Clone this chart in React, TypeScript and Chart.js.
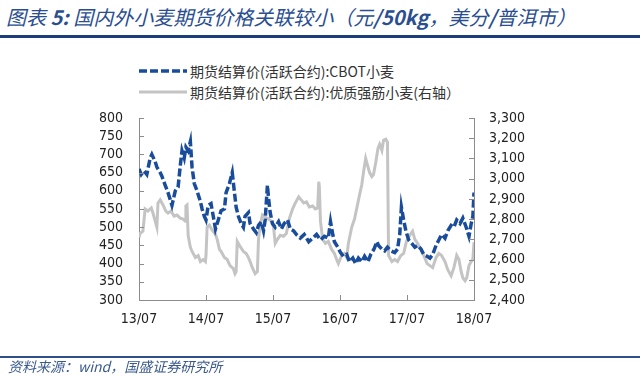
import React, { useEffect, useRef } from "react";
import { Chart, registerables } from "chart.js";

Chart.register(...registerables);

const xTickLabels = ["13/07", "14/07", "15/07", "16/07", "17/07", "18/07"];

// months since 2013/07
const cbotMonths = [
  0, 0.4, 0.9, 1.4, 2.0, 2.3, 2.9, 3.2, 3.8, 4.1, 4.7, 5.2, 5.6, 5.9, 6.5, 7.0, 7.4, 7.7, 8.1, 8.4,
  8.8, 9.2, 9.5, 9.9, 10.4, 11.0, 11.3, 11.7, 12.0, 12.4, 12.9, 13.3, 13.7, 14.2, 14.7, 15.3, 15.6, 16.2, 16.7, 17.1,
  17.4, 17.8, 18.3, 18.7, 19.0, 19.6, 19.9, 20.5, 21.0, 21.4, 21.9, 22.3, 22.6, 23.0, 23.2, 23.5, 23.9, 24.4, 25.0, 25.5,
  26.0, 26.6, 27.1, 27.7, 28.2, 28.9, 29.6, 30.4, 31.1, 31.8, 32.5, 33.2, 33.9, 34.3, 34.7, 35.0, 35.6, 36.1, 36.6, 37.2,
  37.7, 38.3, 38.8, 39.3, 39.9, 40.4, 41.0, 41.5, 42.1, 42.6, 42.9, 43.5, 44.0, 44.5, 45.1, 45.8, 46.3, 46.7, 47.0, 47.4,
  47.8, 48.3, 48.9, 49.4, 49.9, 50.5, 51.0, 51.6, 52.1, 52.6, 53.2, 53.7, 54.2, 54.8, 55.3, 55.9, 56.4, 56.9, 57.5, 58.0,
  58.6, 59.1, 59.5, 59.8, 60.0,
];
const cbotPrice = [
  660, 645, 655, 645, 690, 700, 680, 665, 650, 640, 615, 595, 575, 560, 600, 610, 670, 710, 690, 720,
  710, 735, 665, 620, 600, 570, 550, 530, 520, 560, 565, 530, 495, 520, 545, 550, 595, 620, 650, 595,
  555, 530, 510, 500, 530, 540, 510, 495, 485, 505, 515, 490, 520, 615, 580, 540, 510, 500, 515, 495,
  510, 520, 495, 490, 480, 470, 480, 460, 470, 480, 465, 475, 470, 515, 480, 460, 445, 430, 420, 425,
  405, 415, 400, 415, 405, 420, 405, 425, 440, 460, 450, 440, 435, 445, 435, 430, 440, 480, 555, 520,
  490, 465, 455, 445, 450, 440, 425, 420, 415, 425, 450, 465, 480, 470, 490, 505, 500, 520, 510, 525,
  500, 475, 510, 530, 595,
];

const qualityMonths = [
  0, 0.2, 0.7, 1.1, 1.6, 2.2, 2.5, 2.9, 3.2, 3.4, 3.8, 4.3, 4.8, 5.2, 5.7, 6.3, 6.8, 7.4, 7.9, 8.3,
  8.4, 8.6, 8.8, 9.2, 9.5, 10.1, 10.6, 11.0, 11.5, 11.9, 12.0, 12.2, 12.6, 13.1, 13.7, 14.0, 14.4, 14.7, 15.3, 15.8,
  16.3, 16.9, 17.2, 17.4, 17.6, 18.1, 18.7, 19.2, 19.6, 19.9, 20.3, 20.8, 21.2, 21.4, 21.7, 22.1, 22.6, 23.2, 23.7, 24.1,
  24.4, 24.8, 25.3, 25.9, 26.4, 26.9, 27.5, 28.0, 28.6, 28.9, 29.5, 30.0, 30.5, 31.1, 31.6, 32.0, 32.2, 32.3, 32.5, 32.9,
  33.4, 33.9, 34.5, 35.0, 35.4, 35.7, 36.3, 36.8, 37.2, 37.5, 38.1, 38.6, 39.2, 39.5, 39.9, 40.2, 40.6, 41.0, 41.3, 41.7,
  42.0, 42.4, 42.8, 43.1, 43.5, 43.8, 44.2, 44.5, 44.7, 45.3, 45.8, 46.3, 46.9, 47.4, 47.9, 48.5, 49.0, 49.4, 49.9, 50.5,
  51.0, 51.6, 52.1, 52.6, 53.2, 53.7, 54.2, 54.8, 55.3, 55.9, 56.4, 56.9, 57.3, 57.7, 58.0, 58.4, 58.7, 59.1, 59.5, 59.8,
  60.0,
];
const qualityPrice = [
  2710, 2730, 2740, 2850, 2840, 2855, 2830, 2790, 2760, 2880, 2895, 2870, 2840, 2830, 2840, 2815, 2820, 2805, 2800, 2790,
  2865, 2870, 2720, 2660, 2640, 2610, 2620, 2590, 2600, 2590, 2620, 2760, 2770, 2745, 2725, 2700, 2650, 2640, 2610, 2600,
  2570, 2555, 2530, 2540, 2690, 2665, 2640, 2630, 2610, 2590, 2560, 2530, 2540, 2700, 2770, 2820, 2810, 2800, 2790, 2760,
  2680, 2700, 2720, 2715, 2730, 2800, 2850, 2880, 2910, 2900, 2880, 2885, 2860, 2865, 2850, 2855, 2985, 2960, 2790, 2700,
  2680, 2690, 2650, 2630, 2600, 2580, 2620, 2630, 2610, 2680, 2760, 2800, 2880, 2920, 2970, 3030, 3100, 3060, 3030, 3010,
  3020, 3080, 3150, 3170, 3140, 3190, 3195, 3180, 2620, 2590, 2600, 2590, 2620, 2630, 2690, 2720, 2740, 2700, 2680, 2650,
  2620, 2580, 2570, 2560, 2610, 2630, 2620, 2590, 2550, 2520, 2560, 2620, 2600, 2540, 2510, 2495, 2510, 2570, 2590, 2600,
  2685,
];

const cbotLabel = "期货结算价(活跃合约):CBOT小麦";
const qualityLabel = "期货结算价(活跃合约):优质强筋小麦(右轴）";

const BLUE = "#1A4C9C";
const GRAY = "#C4C4C4";
const AXIS = "#8C8C8C";
const TICK_FONT = { family: "'DejaVu Sans Condensed', 'Liberation Sans', sans-serif", size: 14 };

const innerTicks = {
  id: "innerTicks",
  afterDraw(chart: any) {
    const ctx = chart.ctx;
    const { left, right, bottom } = chart.chartArea;
    ctx.save();
    ctx.strokeStyle = AXIS;
    ctx.lineWidth = 1;
    const len = 5;
    const yl = chart.scales.y;
    yl.ticks.forEach((t: any) => {
      const p = Math.round(yl.getPixelForValue(t.value)) + 0.5;
      ctx.beginPath();
      ctx.moveTo(left, p);
      ctx.lineTo(left + len, p);
      ctx.stroke();
    });
    const yr = chart.scales.y1;
    yr.ticks.forEach((t: any) => {
      const p = Math.round(yr.getPixelForValue(t.value)) + 0.5;
      ctx.beginPath();
      ctx.moveTo(right, p);
      ctx.lineTo(right - len, p);
      ctx.stroke();
    });
    const xs = chart.scales.x;
    xs.ticks.forEach((t: any) => {
      const p = Math.round(xs.getPixelForValue(t.value)) + 0.5;
      ctx.beginPath();
      ctx.moveTo(p, bottom);
      ctx.lineTo(p, bottom - len);
      ctx.stroke();
    });
    ctx.restore();
  },
};

export default function App() {
  const ref = useRef<HTMLCanvasElement>(null);

  useEffect(() => {
    document.body.style.margin = "0";
    const canvas = ref.current!;
    const chart = new Chart(canvas, {
      type: "line",
      data: {
        datasets: [
          {
            label: cbotLabel,
            data: cbotMonths.map((m, i) => ({ x: m, y: cbotPrice[i] })),
            borderColor: BLUE,
            borderWidth: 3.5,
            borderDash: [8, 3],
            pointRadius: 0,
            tension: 0,
            yAxisID: "y",
            order: 0,
          },
          {
            label: qualityLabel,
            data: qualityMonths.map((m, i) => ({ x: m, y: qualityPrice[i] })),
            borderColor: GRAY,
            borderWidth: 3,
            pointRadius: 0,
            tension: 0,
            yAxisID: "y1",
            order: 1,
          },
        ],
      },
      options: {
        responsive: false,
        animation: false,
        events: [],
        layout: { padding: { top: 118, bottom: 36, left: 0, right: 0 } },
        plugins: { legend: { display: false }, tooltip: { enabled: false }, title: { display: false } },
        scales: {
          x: {
            type: "linear",
            min: 0,
            max: 60,
            afterBuildTicks: (s: any) => {
              s.ticks = xTickLabels.map((_, i) => ({ value: i * 12 }));
            },
            afterFit: (s: any) => {
              s.height = 40;
            },
            ticks: {
              color: "#222",
              font: TICK_FONT,
              padding: 11,
              maxRotation: 0,
              autoSkip: false,
              callback: (v: any) => xTickLabels[Math.round(Number(v) / 12)] ?? "",
            },
            grid: { display: false, drawTicks: false },
            border: { display: true, color: AXIS, width: 1 },
          },
          y: {
            position: "left",
            min: 300,
            max: 800,
            afterBuildTicks: (s: any) => {
              const t = [];
              for (let v = 300; v <= 800; v += 50) t.push({ value: v });
              s.ticks = t;
            },
            afterFit: (s: any) => {
              s.width = 139;
            },
            ticks: { color: "#222", font: TICK_FONT, padding: 16, autoSkip: false },
            grid: { display: false, drawTicks: false },
            border: { display: true, color: AXIS, width: 1 },
          },
          y1: {
            position: "right",
            min: 2400,
            max: 3300,
            afterBuildTicks: (s: any) => {
              const t = [];
              for (let v = 2400; v <= 3300; v += 100) t.push({ value: v });
              s.ticks = t;
            },
            afterFit: (s: any) => {
              s.width = 166;
            },
            ticks: {
              color: "#222",
              font: TICK_FONT,
              padding: 15,
              autoSkip: false,
              callback: (v: any) => Number(v).toLocaleString("en-US"),
            },
            grid: { display: false, drawTicks: false },
            border: { display: true, color: AXIS, width: 1 },
          },
        },
      },
      plugins: [innerTicks],
    });
    return () => chart.destroy();
  }, []);

  const cjk = "'Noto Sans CJK SC', 'Noto Sans', sans-serif";
  const titleColor = "#2A4E90";

  return (
    <div style={{ position: "relative", width: 640, height: 376, background: "#fff", overflow: "hidden" }}>
      <div
        style={{
          position: "absolute",
          left: 6,
          top: 4,
          fontFamily: cjk,
          fontStyle: "italic",
          fontSize: 20,
          lineHeight: "26px",
          color: titleColor,
          whiteSpace: "nowrap",
        }}
      >
        <span>图表 </span>
        <b>5:</b>
        <span> 国内外小麦期货价格关联较小（元</span>
        <b>/50kg</b>
        <span>，美分</span>
        <b>/</b>
        <span>普洱市）</span>
      </div>
      <div style={{ position: "absolute", left: 0, top: 35, width: 640, height: 3, background: "#1C3C7A" }} />

      <div style={{ position: "absolute", left: 139, top: 60, fontFamily: cjk, fontSize: 14, color: "#333", whiteSpace: "nowrap" }}>
        <div style={{ display: "flex", alignItems: "center", height: 21 }}>
          <svg width={48} height={8} style={{ marginRight: 3 }}>
            <line x1={0} y1={4} x2={48} y2={4} stroke={BLUE} strokeWidth={3.5} strokeDasharray="8 3" />
          </svg>
          <span>{cbotLabel}</span>
        </div>
        <div style={{ display: "flex", alignItems: "center", height: 21 }}>
          <svg width={48} height={8} style={{ marginRight: 3 }}>
            <line x1={0} y1={4} x2={48} y2={4} stroke={GRAY} strokeWidth={3} />
          </svg>
          <span>{qualityLabel}</span>
        </div>
      </div>

      <canvas ref={ref} width={640} height={376} style={{ position: "absolute", left: 0, top: 0, width: 640, height: 376 }} />

      <div style={{ position: "absolute", left: 0, top: 356, width: 640, height: 2, background: "#2F4F8A" }} />
      <div
        style={{
          position: "absolute",
          left: 8,
          top: 356,
          fontFamily: cjk,
          fontStyle: "italic",
          fontSize: 14,
          lineHeight: "20px",
          color: "#3B5A8E",
          whiteSpace: "nowrap",
        }}
      >
        资料来源：wind，国盛证券研究所
      </div>
    </div>
  );
}
